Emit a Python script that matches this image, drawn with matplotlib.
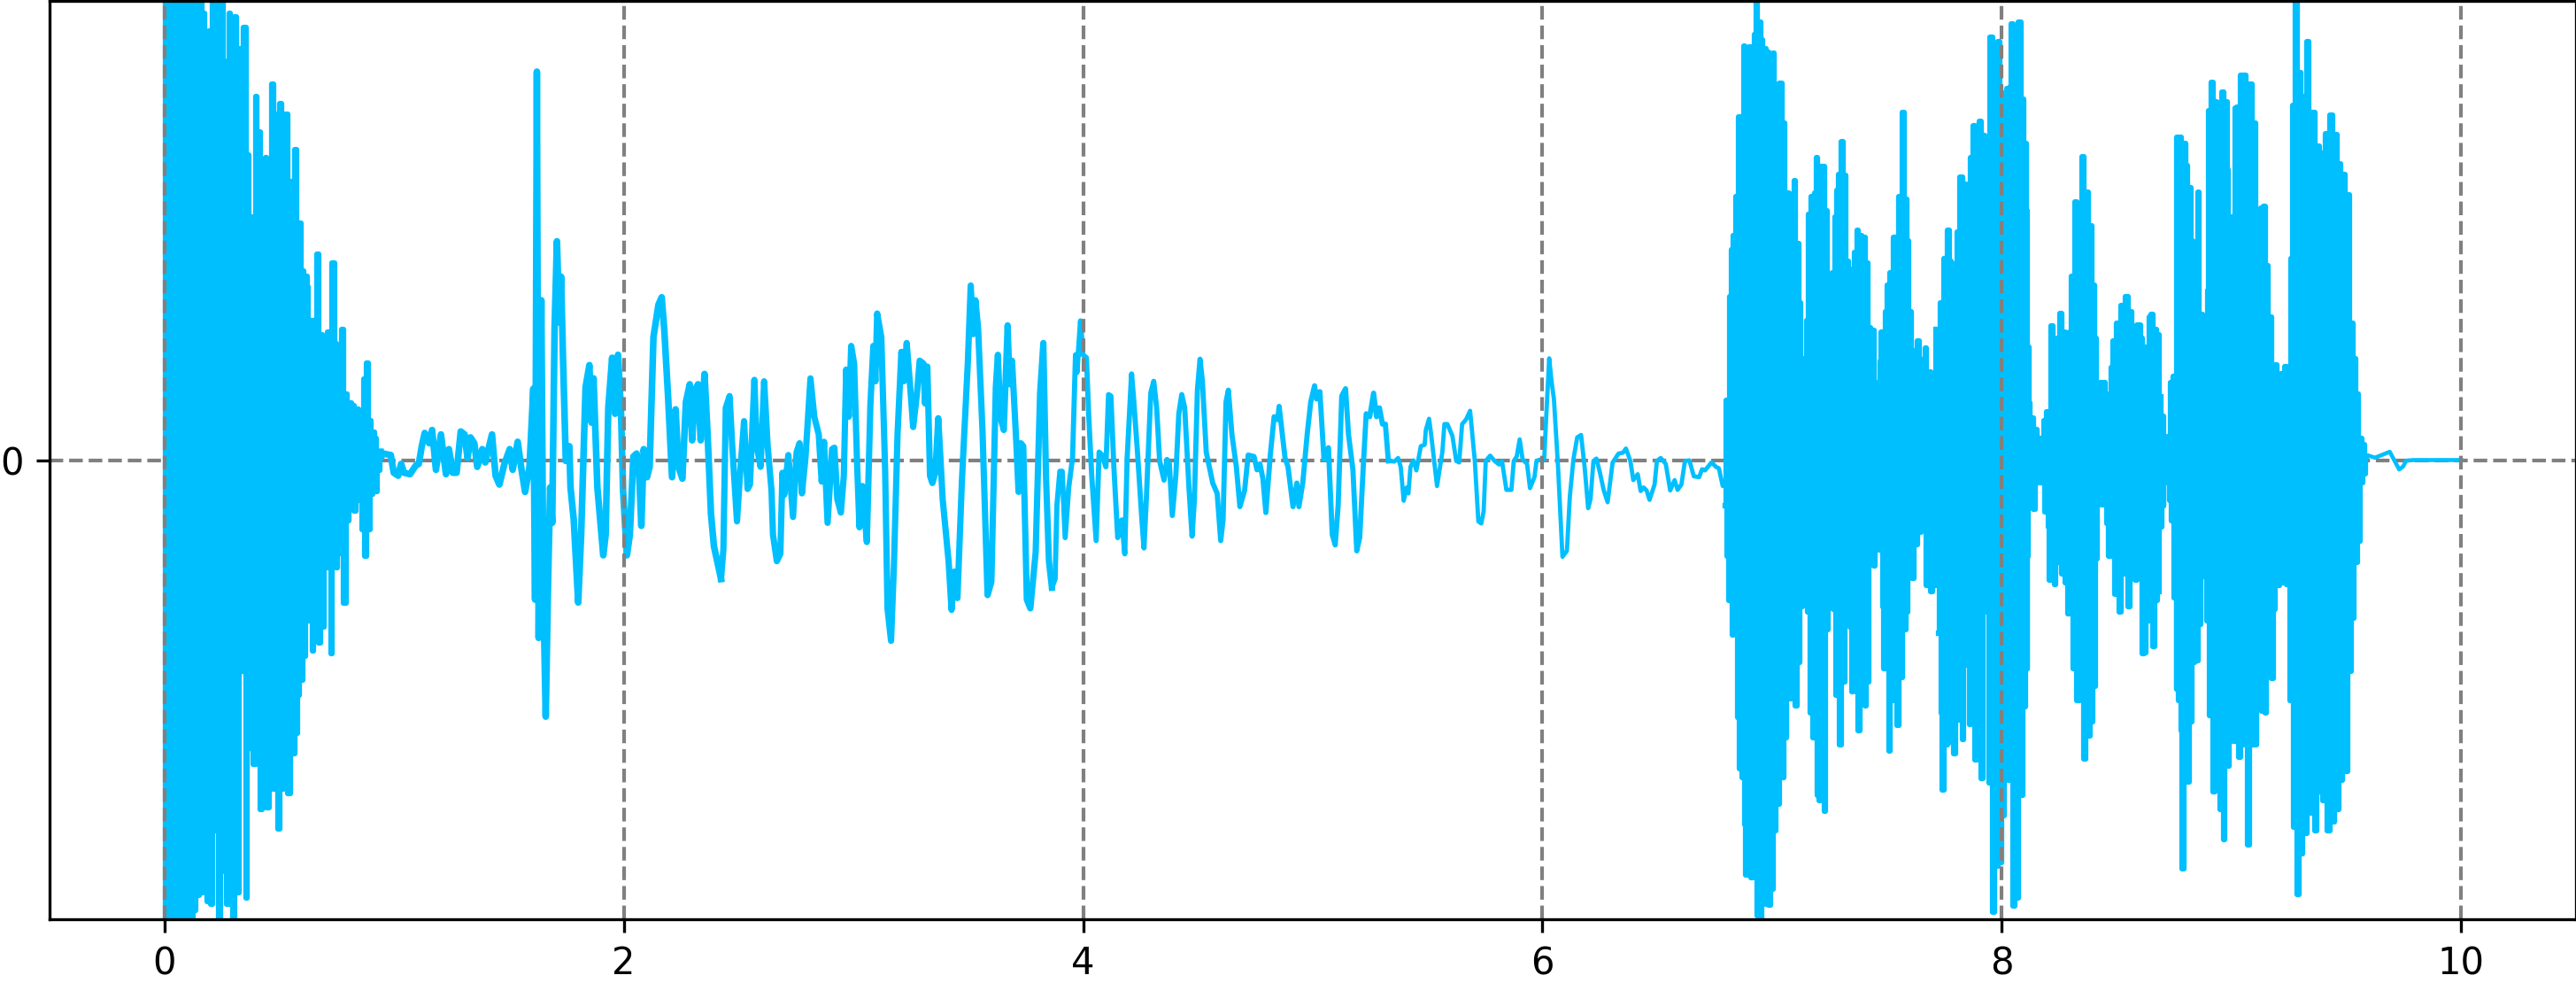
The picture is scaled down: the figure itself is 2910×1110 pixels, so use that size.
import numpy as np
import matplotlib
matplotlib.use('Agg')
import matplotlib.pyplot as plt

# sample numbers run at 778.2 per second, amplitude has no real unit on this chart
rate = 778.2
dense_gain = 2

# --- first burst, 0 - 0.95 s (upper and lower tips)
b1_up_n = [0,16,31,47,59,72,84,94,109,124,132,140,152,164,179,194,204,220,238,256,274,285,296,310,325,335,347,366,377,384,396,413,431,447,460,469,479,487,500,509,521,535,547,560,571,582,590,604,617,627,642,657,667,677,688,700,707,717,727,732]
b1_up_a = [800,800,800,800,732,800,732,772,800,800,757,672,727,800,800,800,677,757,752,697,734,517,412,617,557,452,512,637,587,502,604,587,472,527,402,320,312,294,237,237,349,212,167,217,334,197,177,222,112,97,92,87,67,137,164,67,47,37,14,14]
b1_lo_n = [8,24,39,54,66,80,94,102,112,127,137,147,162,172,187,204,217,227,237,247,262,277,287,297,307,317,327,337,347,360,372,387,397,407,422,434,447,454,467,477,487,502,512,522,537,547,567,582,597,612,622,642,657,672,682,694,702,717,727]
b1_lo_a = [-800,-800,-800,-800,-800,-800,-800,-763,-738,-733,-728,-748,-753,-628,-800,-698,-753,-733,-800,-733,-358,-743,-488,-443,-516,-488,-593,-528,-590,-533,-558,-626,-558,-473,-566,-498,-463,-398,-373,-333,-273,-323,-268,-310,-283,-183,-328,-183,-158,-243,-103,-86,-68,-118,-163,-118,-58,-53,-18]

# --- speech part between the bursts, 0.94 - 6.8 s
m1_start = 732
m1_n = [0,10,35,45,60,70,80,100,120,130,140,150,165,175,188,205,222,232,245,258,272,285,295,305,318,328,345,355,378,390,403,420,438,448,465,478,490,505,518,524,530,536,545,552,560,568,575,582,590,598,606,612,618,628,640,644,655,670,680,695,708,715,722,735,755,763,772,785,795,805,815,822,835,845,857,868,876,884,892,903,912,925,942,953,962,975,988,1000,1010,1023,1035,1048,1056,1066,1076,1085,1098,1108,1120,1130,1140]
m1_a = [7,22,17,-43,-53,-13,-43,-48,-18,-13,47,92,57,102,-33,87,-48,37,-43,-43,97,87,7,77,57,-23,37,-8,87,-53,-83,-13,37,-33,62,-33,-108,-23,242,-473,1317,-603,542,-453,-870,-413,-93,-213,447,742,467,622,367,-3,47,-93,-203,-483,-253,247,322,127,277,-93,-323,-253,177,347,157,357,167,-103,-323,-253,12,22,-33,-223,37,-58,-23,417,527,552,437,207,-58,172,-23,-63,197,257,67,237,257,67,292,97,-183,-293,-338]

m2_start = 1872
m2_n = [14,22,30,43,52,68,78,92,104,112,127,135,148,160,172,185,190,203,215,222,228,242,258,270,280,288,300,317,330,345,355,363,375,390,398,408,420,430,438,447,455,465,475,483,493,508,520,530,537,543,557,570,578,590,600,612,625,633,643,655,665,678,687,700,705,713,722,730,740,750,765,785,795,805,815,830,850,860,868,876,885,900,917,930,945,952,960,972,985,992,1000,1015,1022,1030,1038,1045,1050,1062,1080,1095,1106,1115,1125,1135]
m2_a = [-403,-303,177,217,47,-208,-53,132,-98,-83,272,47,-23,267,47,-103,-253,-343,-318,-43,-118,17,-193,27,57,-113,7,277,147,87,-73,62,-213,37,42,-133,-178,-53,307,147,387,327,-13,-228,-88,-278,187,387,267,497,417,-33,-503,-613,-353,87,367,267,397,247,112,227,337,327,192,317,-53,-78,-43,142,-133,-343,-508,-378,-468,-73,327,592,427,542,447,97,-458,-413,247,357,147,102,457,257,337,47,-108,57,47,-253,-473,-503,-313,227,397,-53,-343,-433]

m3_start = 3012
m3_n = [6,12,22,30,40,52,65,75,80,92,100,112,120,130,145,155,165,178,187,195,205,218,232,242,250,265,272,285,300,307,315,330,340,350,360,375,385,393,403,415,425,435,445,460,470,478,488,497,505,518,540,555,567,575,585,593,605,620,632,648,660,680,690,700,710,720,735,748,760,765,785,795,812,825,832,845,860,872,885,892,903,917,932,945,955,965,977,990,1000,1015,1028,1038,1050,1060,1072,1085,1095,1105,1115,1125,1135]
m3_a = [-403,-153,-38,-38,-263,-93,7,357,297,472,357,347,147,-53,-273,27,17,-23,222,217,-23,-263,-203,-318,7,292,207,27,-203,-298,-133,227,267,177,-3,-68,2,-13,-188,-53,157,222,177,-103,-258,-133,237,342,267,27,-78,-113,-273,-203,197,237,87,-23,-158,-103,17,12,-33,-13,-63,-178,17,147,137,182,7,-23,-158,-78,-158,-78,87,197,252,207,232,2,42,-253,-288,-153,217,242,87,-33,-308,-263,-23,157,147,227,147,177,122,122,-3]

m4_start = 4152
m4_n = [0,15,28,37,47,57,63,70,80,90,105,118,122,133,140,160,178,185,195,212,225,235,245,258,272,288,300,310,318,325,340,355,370,380,395,412,420,430,440,450,465,475,490,497,510,523,530,540,548,556,570,585,600,610,622,635,648,660,672,680,690,700,712,725,738,755,775,790,800,815,825,840,850,860,870,880,897,905,918,935,950,965,975,988,1000,1015,1030,1048,1058,1068,1090,1105,1115,1128,1138]
m4_a = [-3,-5,7,-23,-138,-93,-113,-23,-1,-35,47,52,102,140,87,-88,27,122,122,82,-3,-8,122,137,167,-3,-208,-215,-173,-3,15,-3,-15,-3,-101,-101,-3,12,70,2,-13,-95,-58,-3,2,2,147,345,267,207,-23,-328,-308,-123,2,77,85,-23,-163,-133,-3,5,-43,-103,-143,-8,22,25,39,-3,-68,-48,-105,-93,-103,-135,-83,-3,7,-13,-103,-68,-101,-83,-3,-1,-55,-58,-31,-35,-8,-23,-28,-88,-83]

# --- second burst, 6.8 - 9.6 s, three stretches
b2_start = 5262
b2_up_n = [30,38,44,50,60,68,75,82,92,105,113,122,128,135,145,150,157,165,172,180,190,200,212,218,225,230,238,245,252,258,265,275,282,290,298,305,312,322,332,340,350,362,370,375,382,388,393,400,407,415,425,433,438,447,455,462,470,478,490,500,510,518,530,537,545,552,560,572,580,590,597,607,615,628,640,645,652,660,668,680,692,707,718,730,742]
b2_up_a = [102,102,277,357,380,447,582,582,702,672,700,700,722,800,742,712,662,697,692,662,690,617,639,639,572,452,452,362,302,377,474,367,267,167,172,237,417,447,452,512,497,497,422,272,262,302,317,412,457,484,540,482,337,324,287,292,352,390,380,377,334,224,220,132,102,167,217,252,297,317,377,377,447,589,442,372,252,187,177,202,170,190,150,142,222]
b2_lo_n = [28,33,40,50,60,70,75,85,92,98,105,115,122,135,148,155,165,178,188,195,205,212,222,232,245,255,265,275,283,292,300,307,315,325,340,348,363,373,380,395,402,415,428,437,450,458,470,478,490,500,510,522,530,540,550,560,570,582,595,612,625,635,642,650,662,675,690,705,710,725,740]
b2_lo_a = [-78,-163,-238,-296,-268,-436,-523,-538,-618,-703,-703,-708,-683,-773,-778,-748,-753,-755,-728,-628,-583,-538,-538,-471,-405,-405,-416,-343,-248,-128,-178,-258,-428,-470,-568,-578,-596,-288,-233,-253,-398,-483,-376,-268,-283,-393,-393,-458,-413,-416,-376,-178,-180,-148,-153,-248,-353,-493,-408,-450,-368,-288,-258,-143,-201,-143,-123,-98,-213,-223,-213]

b3_start = 6012
b3_up_n = [3,8,18,32,40,48,58,68,78,88,95,102,112,122,138,152,160,165,172,178,190,202,215,228,235,242,252,262,272,285,295,298,303,308,318,330,340,352,360,370,380,390,398,405,415,425,433,445,455,465,480,490,505,518,525,533,540,550,558,570,585,595,605,620,635,648,660,675,690,703,715,722,735,745]
b3_up_a = [212,267,342,389,337,332,330,387,479,467,417,379,512,567,574,550,492,267,452,717,592,710,622,572,630,632,739,612,742,612,537,422,192,97,72,52,37,37,67,82,227,157,160,207,249,217,197,217,312,437,407,514,454,397,297,207,97,132,132,112,157,202,232,262,277,252,162,229,207,192,242,247,222,212]
b3_lo_n = [0,8,16,30,42,55,68,82,95,105,122,135,150,162,172,185,197,210,218,228,240,252,268,283,292,298,302,310,325,335,350,360,370,378,392,405,418,430,442,455,470,490,505,518,528,535,545,555,570,582,598,615,632,645,660,670,690,702,712,728,738,745]
b3_lo_a = [-293,-428,-560,-483,-478,-498,-440,-473,-348,-448,-508,-448,-540,-258,-548,-766,-688,-683,-603,-488,-543,-756,-743,-568,-418,-353,-163,-78,-83,-38,-38,-88,-113,-203,-211,-173,-193,-208,-261,-353,-408,-506,-468,-443,-383,-168,-73,-76,-108,-163,-228,-258,-193,-248,-198,-203,-328,-326,-273,-316,-238,-223]

b4_start = 6762
b4_up_n = [3,10,15,22,30,37,47,55,60,70,80,92,103,110,118,130,140,148,155,162,168,180,192,200,212,222,230,238,245,255,265,275,285,295,310,320,328,335,345,355,365,378,390,400,407,415,428,440,447,452,463,475,485,498,507,520,533,548,565,582,598,610,625,640,650,660,670,680,690,697]
b4_up_a = [107,74,37,20,40,132,142,142,547,547,537,499,462,372,327,454,247,242,157,287,592,640,607,604,624,607,492,402,412,597,599,652,652,630,637,572,262,307,427,430,330,242,162,142,117,147,159,147,342,602,800,657,617,710,537,589,532,520,554,585,552,502,484,450,232,172,112,37,27,7]
b4_lo_n = [3,10,15,25,33,40,47,55,62,70,78,92,103,112,125,135,145,152,160,168,180,192,205,217,230,240,252,268,280,297,312,325,335,345,355,365,378,388,400,415,430,442,455,465,478,488,497,510,527,543,555,570,585,600,610,630,645,655,665,675,685,695]
b4_lo_a = [-113,-78,-38,-18,-68,-103,-233,-388,-408,-458,-693,-546,-443,-343,-340,-278,-198,-178,-273,-433,-563,-538,-593,-643,-518,-470,-476,-503,-483,-653,-483,-483,-298,-426,-428,-343,-370,-253,-213,-208,-211,-408,-623,-736,-668,-633,-633,-598,-628,-563,-578,-628,-613,-593,-543,-528,-358,-268,-173,-138,-38,-23]

# --- after the last word, flat out to 10 s
tail_n = [7465,7490,7520,7540,7555,7572,7585,7596,7620,7782]
tail_a = [16,8,20,28,0,-32,-22,-2,0,0]


def tips(start, up_n, up_a, lo_n, lo_a):
    n = np.concatenate([np.array(up_n) + start, np.array(lo_n) + start])
    a = np.concatenate([np.array(up_a), np.array(lo_a)]) * dense_gain
    order = np.argsort(n, kind='stable')
    return n[order], a[order]


b1 = tips(0, b1_up_n, b1_up_a, b1_lo_n, b1_lo_a)
b2 = tips(b2_start, b2_up_n, b2_up_a, b2_lo_n, b2_lo_a)
b3 = tips(b3_start, b3_up_n, b3_up_a, b3_lo_n, b3_lo_a)
b4 = tips(b4_start, b4_up_n, b4_up_a, b4_lo_n, b4_lo_a)

fig = plt.figure(figsize=(9.7, 3.7), dpi=300)
ax = fig.add_axes([56 / 2910, 72 / 1110, (2910 - 56) / 2910, (1110 - 72 - 1) / 1110])

ax.axhline(0, color='gray', linestyle='--', linewidth=1)

# bursts are drawn as blocks, one stroke per tip, so the body comes out solid
for n, a in (b1, b2, b3, b4):
    ax.plot(n / rate, a, color='deepskyblue', linewidth=1.5, drawstyle='steps-mid', solid_joinstyle='round')

# the trace looks heavier where the speech is busy and thins out towards 6.8 s
ax.plot(np.r_[b1[0][-1], np.array(m1_n) + m1_start, m2_start + m2_n[0]] / rate, np.r_[b1[1][-1], m1_a, m2_a[0]], color='deepskyblue', linewidth=1.8)
ax.plot((np.array(m2_n) + m2_start) / rate, m2_a, color='deepskyblue', linewidth=1.7)
ax.plot(np.r_[m2_start + m2_n[-1], np.array(m3_n) + m3_start] / rate, np.r_[m2_a[-1], m3_a], color='deepskyblue', linewidth=1.4)
ax.plot(np.r_[m3_start + m3_n[-1], np.array(m4_n) + m4_start, b2[0][0]] / rate, np.r_[m3_a[-1], m4_a, b2[1][0]], color='deepskyblue', linewidth=1.15)
ax.plot(np.r_[b4[0][-1], tail_n] / rate, np.r_[b4[1][-1], tail_a], color='deepskyblue', linewidth=1.1)

for sec in range(0, 11, 2):
    ax.axvline(sec, color='gray', linestyle='--', linewidth=1)

ax.set_xlim(-0.5, 10.5)
ax.set_ylim(-1557, 1557)
ax.set_xticks(range(0, 11, 2))
ax.set_yticks([0])

fig.savefig('out.png', dpi=300)
